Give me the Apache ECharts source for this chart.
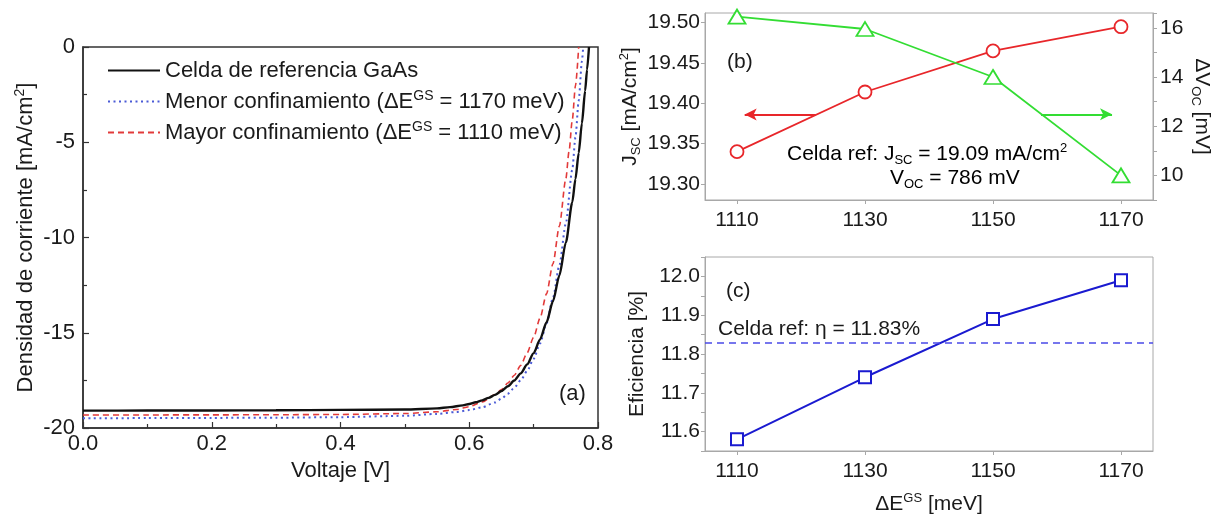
<!DOCTYPE html>
<html>
<head>
<meta charset="utf-8">
<script src="https://cdn.jsdelivr.net/npm/echarts@6/dist/echarts.min.js"></script>
<style>
  html, body { margin: 0; padding: 0; background: #fff; }
  #chart { width: 1223px; height: 520px; }
</style>
</head>
<body>
<div id="chart"></div>
<script>
// ---- (a) Curvas J–V: [voltaje V, densidad de corriente mA/cm2] ----
const refJV = [
  [0, -19.09], [0.1, -19.085], [0.2, -19.08], [0.3, -19.07], [0.4, -19.05], [0.5, -19.03],
  [0.55, -18.97], [0.57, -18.905], [0.59, -18.81], [0.6, -18.74], [0.61, -18.65], [0.62, -18.55],
  [0.63, -18.42], [0.64, -18.26], [0.65, -18.06], [0.66, -17.81], [0.67, -17.51], [0.68, -17.13],
  [0.69, -16.66], [0.70, -16.07], [0.71, -15.35], [0.72, -14.46], [0.73, -13.35], [0.74, -11.99],
  [0.75, -10.27], [0.76, -8.16], [0.765, -6.93], [0.77, -5.56], [0.775, -4.01], [0.78, -2.3],
  [0.783, -1.19], [0.786, 0]
];
const menorJV = [
  [0, -19.49], [0.1, -19.48], [0.2, -19.47], [0.3, -19.46], [0.4, -19.43], [0.5, -19.36],
  [0.55, -19.26], [0.58, -19.16], [0.6, -19.06], [0.62, -18.91], [0.64, -18.66], [0.65, -18.46],
  [0.66, -18.2], [0.67, -17.89], [0.68, -17.49], [0.69, -17.0], [0.70, -16.37], [0.71, -15.56],
  [0.72, -14.51], [0.73, -13.18], [0.74, -11.46], [0.75, -9.27], [0.76, -6.45], [0.765, -4.74],
  [0.77, -2.82], [0.775, -0.75], [0.777, 0]
];
const mayorJV = [
  [0, -19.32], [0.1, -19.315], [0.2, -19.31], [0.3, -19.305], [0.4, -19.29], [0.5, -19.24],
  [0.55, -19.15], [0.58, -19.03], [0.6, -18.88], [0.62, -18.63], [0.64, -18.25], [0.65, -17.98],
  [0.66, -17.64], [0.67, -17.23], [0.68, -16.71], [0.69, -16.05], [0.70, -15.24], [0.71, -14.23],
  [0.72, -12.96], [0.73, -11.38], [0.74, -9.4], [0.75, -6.93], [0.755, -5.48], [0.76, -3.85],
  [0.765, -2.03], [0.770, 0]
];

// ---- (b), (c) frente a la energía del estado fundamental ----
const gsEnergies = [1110, 1130, 1150, 1170];
const jscValues  = [19.34, 19.414, 19.465, 19.495];
const dVocValues = [16.45, 15.95, 14.0, 10.0];
const effValues  = [11.58, 11.74, 11.89, 11.99];
const effRef     = 11.83;

const jscTicks  = [19.30, 19.35, 19.40, 19.45, 19.50];
const dVocTicks = [10, 12, 14, 16];
const effTicks  = [11.6, 11.7, 11.8, 11.9, 12.0];

// flechas que indican el eje de cada serie
const jscArrow  = [[1122.3, 19.386], [1111.2, 19.386]];
const dVocArrow = [[1157.5, 12.48], [1168.6, 12.48]];

const FONT = 'Liberation Sans, Arial, sans-serif';
const TXT = '#1a1a1a';
const pair = (xs, ys) => xs.map((x, i) => [x, ys[i]]);

const richBase = (size) => ({
  n:   { fontFamily: FONT, fontSize: size, color: TXT, lineHeight: size + 4 },
  sub: { fontFamily: FONT, fontSize: Math.round(size * 0.62), color: TXT, verticalAlign: 'bottom', lineHeight: Math.round(size * 0.62) },
  sup: { fontFamily: FONT, fontSize: Math.round(size * 0.62), color: TXT, verticalAlign: 'top', lineHeight: Math.round(size * 0.62) }
});

const legendText = {
  'ref':   'Celda de referencia GaAs',
  'menor': 'Menor confinamiento (ΔE{sup|GS} = 1170 meV)',
  'mayor': 'Mayor confinamiento (ΔE{sup|GS} = 1110 meV)'
};

const axisA = {
  axisLine: { show: true, onZero: false, lineStyle: { color: '#333', width: 1.5 } },
  axisTick: { show: true, inside: true, length: 6, lineStyle: { color: '#333', width: 1.2 } },
  minorTick: { show: true, splitNumber: 2, length: 4, lineStyle: { color: '#333', width: 1.2 } },
  splitLine: { show: false },
  axisLabel: { fontFamily: FONT, fontSize: 22, color: TXT },
  nameTextStyle: { fontFamily: FONT, fontSize: 22, color: TXT, rich: richBase(22) }
};
const grayLine = { show: true, onZero: false, lineStyle: { color: '#a8a8a8', width: 1 } };
const grayTick = { show: true, inside: false, length: 4, lineStyle: { color: '#a8a8a8', width: 1 } };
const meVLabel = { customValues: gsEnergies, formatter: v => String(v), fontFamily: FONT, fontSize: 21, color: TXT, margin: 10 };

const chart = echarts.init(document.getElementById('chart'), null, { renderer: 'canvas' });

chart.setOption({
  animation: false,
  backgroundColor: '#fff',
  grid: [
    { left: 83, top: 47, width: 515, height: 381, show: true, borderColor: '#333', borderWidth: 1.5, backgroundColor: 'transparent' },
    { left: 705, top: 13, width: 448, height: 187, show: true, borderColor: '#a8a8a8', borderWidth: 1, backgroundColor: 'transparent' },
    { left: 705, top: 257, width: 448, height: 194, show: true, borderColor: '#a8a8a8', borderWidth: 1, backgroundColor: 'transparent' }
  ],
  xAxis: [
    Object.assign({}, axisA, {
      gridIndex: 0, type: 'value', min: 0, max: 0.8, interval: 0.2,
      name: 'Voltaje [V]', nameLocation: 'middle', nameGap: 32,
      axisLabel: Object.assign({}, axisA.axisLabel, { margin: 5, formatter: v => v.toFixed(1) })
    }),
    {
      gridIndex: 1, type: 'value', min: 1105, max: 1175,
      axisLine: grayLine,
      axisTick: Object.assign({}, grayTick, { customValues: gsEnergies }),
      splitLine: { show: false },
      axisLabel: meVLabel
    },
    {
      gridIndex: 2, type: 'value', min: 1105, max: 1175,
      axisLine: grayLine,
      axisTick: Object.assign({}, grayTick, { customValues: gsEnergies }),
      splitLine: { show: false },
      axisLabel: meVLabel,
      name: '{n|ΔE}{sup|GS}{n| [meV]}', nameLocation: 'middle', nameGap: 41,
      nameTextStyle: { rich: richBase(21) }
    }
  ],
  yAxis: [
    Object.assign({}, axisA, {
      gridIndex: 0, type: 'value', min: -20, max: 0, interval: 5,
      name: '{n|Densidad de corriente [mA/cm}{sup|2}{n|]}', nameLocation: 'middle', nameGap: 44,
      axisLabel: Object.assign({}, axisA.axisLabel, { margin: 8 })
    }),
    {
      gridIndex: 1, type: 'value', position: 'left', min: 19.28, max: 19.512,
      axisLine: grayLine,
      axisTick: Object.assign({}, grayTick, { customValues: jscTicks }),
      splitLine: { show: false },
      axisLabel: { customValues: jscTicks, formatter: v => v.toFixed(2), fontFamily: FONT, fontSize: 21, color: TXT, margin: 5 },
      name: '{n|J}{sub|SC}{n| [mA/cm}{sup|2}{n|]}', nameLocation: 'middle', nameGap: 62,
      nameTextStyle: { rich: richBase(21) }
    },
    {
      gridIndex: 1, type: 'value', position: 'right', min: 9, max: 16.6, interval: 1,
      axisLine: grayLine,
      axisTick: grayTick,
      splitLine: { show: false },
      axisLabel: { customValues: dVocTicks, fontFamily: FONT, fontSize: 21, color: TXT, margin: 7 },
      name: '{n|ΔV}{sub|OC}{n| [mV]}', nameLocation: 'middle', nameGap: 36, nameRotate: -90,
      nameTextStyle: { rich: richBase(21) }
    },
    {
      gridIndex: 2, type: 'value', min: 11.55, max: 12.05, interval: 0.05,
      axisLine: grayLine,
      axisTick: grayTick,
      splitLine: { show: false },
      axisLabel: { customValues: effTicks, formatter: v => v.toFixed(1), fontFamily: FONT, fontSize: 21, color: TXT, margin: 5 },
      name: '{n|Eficiencia [%]}', nameLocation: 'middle', nameGap: 55,
      nameTextStyle: { rich: richBase(21) }
    }
  ],
  legend: {
    left: 102, top: 53, orient: 'vertical',
    itemWidth: 52, itemHeight: 14, itemGap: 6,
    data: ['ref', 'menor', 'mayor'],
    formatter: name => legendText[name],
    itemStyle: { opacity: 0 },
    textStyle: { fontFamily: FONT, fontSize: 22, color: TXT, lineHeight: 25, rich: { sup: { fontFamily: FONT, fontSize: 14, color: TXT, verticalAlign: 'top', lineHeight: 14 } } }
  },
  series: [
    {
      name: 'ref', type: 'line', xAxisIndex: 0, yAxisIndex: 0, data: refJV,
      showSymbol: false, symbol: 'none', smooth: 0.25, smoothMonotone: 'x', z: 5,
      lineStyle: { color: '#111', width: 2.4 }, itemStyle: { color: '#111' }
    },
    {
      name: 'menor', type: 'line', xAxisIndex: 0, yAxisIndex: 0, data: menorJV,
      showSymbol: false, symbol: 'none', smooth: 0.25, smoothMonotone: 'x', z: 4,
      lineStyle: { color: '#4a5ad6', width: 2, type: [2, 3.5] }, itemStyle: { color: '#4a5ad6' }
    },
    {
      name: 'mayor', type: 'line', xAxisIndex: 0, yAxisIndex: 0, data: mayorJV,
      showSymbol: false, symbol: 'none', smooth: 0.25, smoothMonotone: 'x', z: 3,
      lineStyle: { color: '#e23a3a', width: 1.6, type: [6, 4] }, itemStyle: { color: '#e23a3a' }
    },
    {
      name: 'Jsc', type: 'line', xAxisIndex: 1, yAxisIndex: 1, data: pair(gsEnergies, jscValues),
      symbol: 'circle', symbolSize: 13, z: 4,
      lineStyle: { color: '#e8262a', width: 1.8 },
      itemStyle: { color: '#fff', borderColor: '#e8262a', borderWidth: 1.8 },
      markLine: {
        silent: true, symbol: ['none', 'arrow'], symbolSize: [9, 12],
        lineStyle: { color: '#e8262a', width: 2, type: 'solid' }, label: { show: false },
        data: [[{ coord: jscArrow[0] }, { coord: jscArrow[1] }]]
      }
    },
    {
      name: 'dVoc', type: 'line', xAxisIndex: 1, yAxisIndex: 2, data: pair(gsEnergies, dVocValues),
      symbol: 'triangle', symbolSize: [17, 14], z: 4,
      lineStyle: { color: '#33dd33', width: 1.8 },
      itemStyle: { color: '#fff', borderColor: '#33dd33', borderWidth: 1.8 },
      markLine: {
        silent: true, symbol: ['none', 'arrow'], symbolSize: [9, 12],
        lineStyle: { color: '#33dd33', width: 2, type: 'solid' }, label: { show: false },
        data: [[{ coord: dVocArrow[0] }, { coord: dVocArrow[1] }]]
      }
    },
    {
      name: 'Eficiencia', type: 'line', xAxisIndex: 2, yAxisIndex: 3, data: pair(gsEnergies, effValues),
      symbol: 'rect', symbolSize: 12, z: 4,
      lineStyle: { color: '#1a1ad0', width: 2 },
      itemStyle: { color: '#fff', borderColor: '#1a1ad0', borderWidth: 2 },
      markLine: {
        silent: true, symbol: 'none',
        lineStyle: { color: '#4a4ae8', width: 1.5, type: [7, 5] }, label: { show: false },
        data: [{ yAxis: effRef }]
      }
    }
  ],
  graphic: [
    { type: 'text', left: 559, top: 383, style: { text: '(a)', font: '22px ' + FONT, fill: TXT } },
    { type: 'text', left: 727, top: 52, style: { text: '(b)', font: '21px ' + FONT, fill: TXT } },
    { type: 'text', left: 726, top: 281, style: { text: '(c)', font: '21px ' + FONT, fill: TXT } },
    { type: 'text', left: 787, top: 142, style: { text: '{n|Celda ref: J}{sub|SC}{n| = 19.09 mA/cm}{sup|2}', rich: richBase(21) } },
    { type: 'text', left: 890, top: 168, style: { text: '{n|V}{sub|OC}{n| = 786 mV}', rich: richBase(21) } },
    { type: 'text', left: 718, top: 319, style: { text: 'Celda ref: η = ' + effRef.toFixed(2) + '%', font: '21px ' + FONT, fill: TXT } }
  ]
});
</script>
</body>
</html>
